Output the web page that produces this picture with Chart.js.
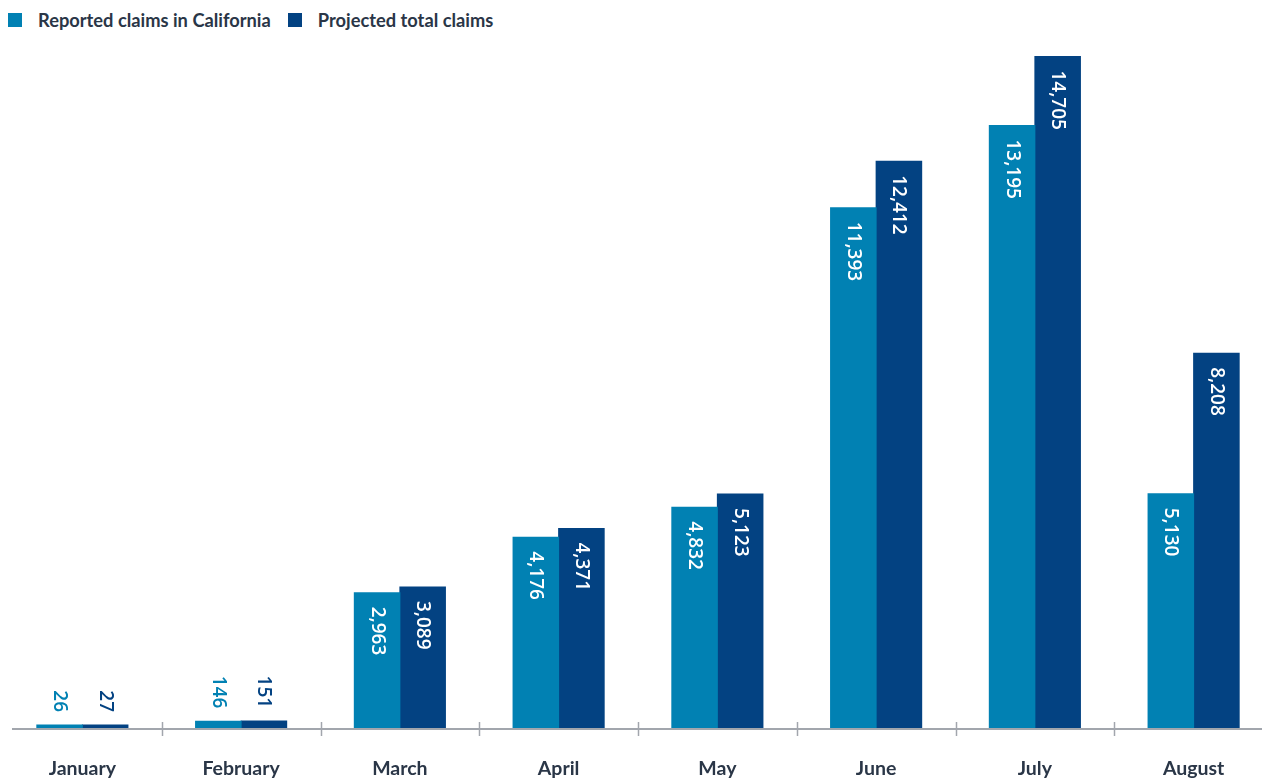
<!DOCTYPE html>
<html>
<head>
<meta charset="utf-8">
<script src="https://cdn.jsdelivr.net/npm/chart.js@4.4.1/dist/chart.umd.min.js"></script>
<style>
html,body{margin:0;padding:0;overflow:hidden;background:#fff;width:1262px;height:778px;}
#legend{position:absolute;left:8px;top:9px;display:flex;align-items:center;font-family:Lato,sans-serif;font-weight:700;font-size:18.3px;color:#2a3647;white-space:nowrap;}
#legend .item{display:flex;align-items:center;margin-right:17px;}
#legend .box{width:14px;height:14px;margin-right:16px;}
#wrap{position:absolute;left:0;top:0;width:1273px;height:778px;}
</style>
</head>
<body>
<div id="legend"></div>
<div id="wrap"><canvas id="c"></canvas></div>
<script>
const categories = ["January","February","March","April","May","June","July","August"];
const seriesNames = ["Reported claims in California","Projected total claims"];
const reported = [26,146,2963,4176,4832,11393,13195,5130];
const projected = [27,151,3089,4371,5123,12412,14705,8208];
const colors = ["#0181b3","#034282"];

const legend = document.getElementById('legend');
seriesNames.forEach((n,i)=>{
  const it=document.createElement('div');it.className='item';
  const b=document.createElement('div');b.className='box';b.style.background=colors[i];
  const t=document.createElement('span');t.textContent=n;
  it.appendChild(b);it.appendChild(t);legend.appendChild(it);
});

const fmt = v => v.toLocaleString('en-US');

const labelPlugin = {
  id:'valueLabels',
  afterDatasetsDraw(chart){
    const ctx=chart.ctx;
    ctx.save();
    ctx.font='600 19px "Open Sans", sans-serif';
    ctx.textBaseline='middle';
    chart.data.datasets.forEach((ds,di)=>{
      const meta=chart.getDatasetMeta(di);
      meta.data.forEach((bar,i)=>{
        const txt=fmt(ds.data[i]);
        const w=ctx.measureText(txt).width;
        const h=bar.base-bar.y;
        ctx.save();
        if(h>w+30){
          ctx.translate(bar.x,bar.y+14);
          ctx.rotate(Math.PI/2);
          ctx.textAlign='left';
          ctx.fillStyle='#ffffff';
        } else {
          ctx.translate(bar.x,bar.y-13);
          ctx.rotate(Math.PI/2);
          ctx.textAlign='right';
          ctx.fillStyle=colors[di];
        }
        ctx.fillText(txt,0,0);
        ctx.restore();
      });
    });
    ctx.restore();
  }
};

const axisPlugin = {
  id:'axisLine',
  afterDatasetsDraw(chart){
    const ctx=chart.ctx, a=chart.chartArea, x=chart.scales.x;
    ctx.save();
    ctx.strokeStyle='#a2a6ad';
    ctx.lineWidth=2;
    ctx.beginPath();
    ctx.moveTo(12,a.bottom+1);ctx.lineTo(1273,a.bottom+1);
    ctx.stroke();
    ctx.lineWidth=1.5;
    for(let i=1;i<categories.length;i++){
      const px=(x.getPixelForValue(i-1)+x.getPixelForValue(i))/2;
      ctx.beginPath();
      ctx.moveTo(Math.round(px)+0.5,a.bottom-6);
      ctx.lineTo(Math.round(px)+0.5,a.bottom+8);
      ctx.stroke();
    }
    ctx.restore();
  }
};

new Chart(document.getElementById('c'),{
  type:'bar',
  data:{
    labels:categories,
    datasets:[
      {label:seriesNames[0],data:reported,backgroundColor:colors[0],minBarLength:3},
      {label:seriesNames[1],data:projected,backgroundColor:colors[1],minBarLength:3}
    ]
  },
  options:{
    responsive:true,
    maintainAspectRatio:false,
    animation:false,
    devicePixelRatio:1,
    layout:{padding:{left:3,right:0,top:43,bottom:0}},
    plugins:{legend:{display:false},tooltip:{enabled:false}},
    datasets:{bar:{categoryPercentage:0.574,barPercentage:1.0,inflateAmount:0.5}},
    scales:{
      x:{
        grid:{display:false},
        border:{display:false},
        ticks:{padding:21,color:'#2a3647',font:{family:'Lato, sans-serif',weight:'700',size:19.5}},
        afterFit(s){s.height=50;}
      },
      y:{display:false,min:0,max:15000}
    }
  },
  plugins:[labelPlugin,axisPlugin]
});
</script>
</body>
</html>
